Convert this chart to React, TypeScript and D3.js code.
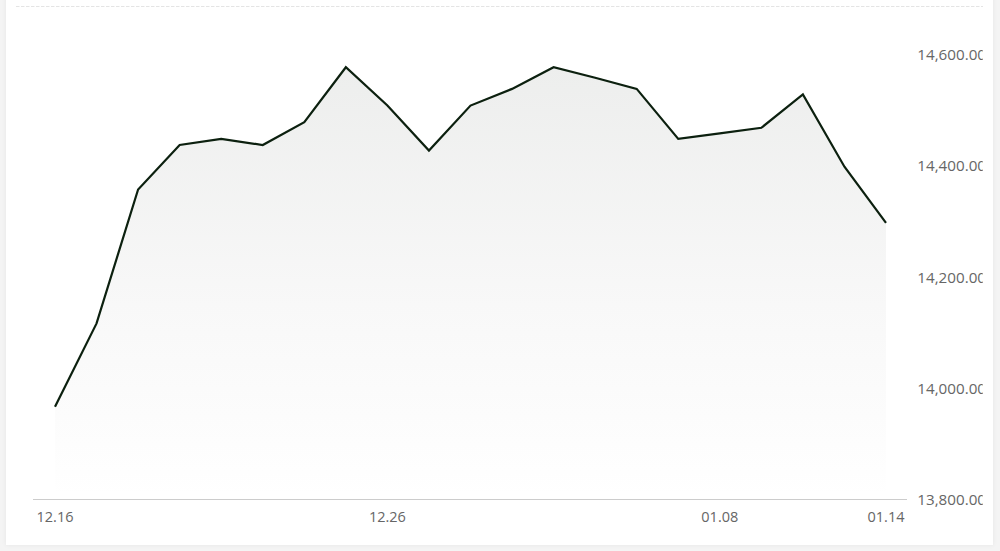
import React from "react";
import * as d3 from "d3";

const dates = [
  "12.16", "12.17", "12.18", "12.19", "12.20", "12.23", "12.24", "12.25", "12.26", "12.27",
  "12.30", "12.31", "01.02", "01.03", "01.06", "01.07", "01.08", "01.09", "01.10", "01.13", "01.14",
];
const values = [
  13967, 14117, 14358, 14438, 14449, 14438, 14479, 14578, 14509, 14428,
  14509, 14539, 14578, 14559, 14539, 14449, 14459, 14469, 14529, 14399, 14298,
];
const xTickLabels = ["12.16", "12.26", "01.08", "01.14"];
const yTicks = [13800, 14000, 14200, 14400, 14600];

const W = 1000;
const H = 551;

export default function App() {
  const x = d3.scalePoint<string>().domain(dates).range([55, 886]);
  const y = d3.scaleLinear().domain([13800, 14600]).range([499.5, 55]);

  const line = d3
    .line<number>()
    .x((_, i) => x(dates[i]) as number)
    .y((d) => y(d));
  const area = d3
    .area<number>()
    .x((_, i) => x(dates[i]) as number)
    .y0(y(13800) - 8)
    .y1((d) => y(d));

  const fmt = d3.format(",.2f");
  const font = "'Open Sans', 'Noto Sans', sans-serif";

  return (
    <div style={{ position: "fixed", left: 0, top: 0, width: W, height: H, background: "#f4f4f4" }}>
      <svg width={W} height={H} style={{ display: "block" }}>
        <defs>
          <linearGradient id="areaGrad" x1="0" y1={y(14578)} x2="0" y2={y(13800)} gradientUnits="userSpaceOnUse">
            <stop offset="0" stopColor="#edeeed" />
            <stop offset="0.55" stopColor="#f8f8f8" />
            <stop offset="1" stopColor="#ffffff" />
          </linearGradient>
          <filter id="shadow" x="-5%" y="-5%" width="110%" height="110%">
            <feDropShadow dx="0" dy="0" stdDeviation="2" floodColor="#000" floodOpacity="0.06" />
          </filter>
          <clipPath id="cardClip">
            <rect x={6} y={0} width={976.7} height={545} />
          </clipPath>
        </defs>
        <rect x={6} y={-10} width={987} height={555} fill="#ffffff" filter="url(#shadow)" />
        <line x1={16} x2={983} y1={6.5} y2={6.5} stroke="#e4e4e4" strokeDasharray="3.5,1.5" />
        <path d={area(values) || ""} fill="url(#areaGrad)" />
        <line x1={33} x2={907} y1={499.5} y2={499.5} stroke="#cccccc" strokeWidth={1} />
        <path d={line(values) || ""} fill="none" stroke="#0c200f" strokeWidth={2.2} strokeLinejoin="miter" />
        <g clipPath="url(#cardClip)">
          {yTicks.map((t) => (
            <text
              key={t}
              x={917.3}
              y={y(t)}
              dy="0.35em"
              fontFamily={font}
              fontSize={15.2}
              fill="#666666"
            >
              {fmt(t)}
            </text>
          ))}
        </g>
        {xTickLabels.map((d) => (
          <text
            key={d}
            x={x(d) as number}
            y={517}
            dy="0.35em"
            textAnchor="middle"
            fontFamily={font}
            fontSize={14.5}
            fill="#666666"
          >
            {d}
          </text>
        ))}
      </svg>
    </div>
  );
}
